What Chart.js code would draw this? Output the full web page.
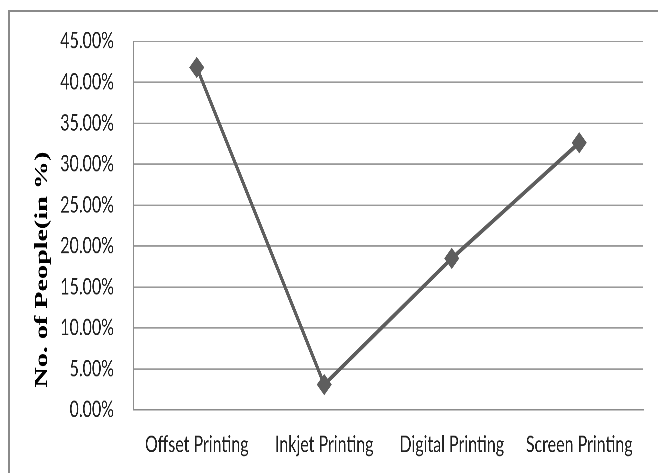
<!DOCTYPE html>
<html>
<head>
<meta charset="utf-8">
<script src="https://cdn.jsdelivr.net/npm/chart.js@4"></script>
<style>
  html, body { margin: 0; padding: 0; background: #fff; width: 658px; height: 473px; overflow: hidden; }
  #stretch { position: absolute; left: 0; top: 0; width: 658px; height: 333px; transform: scaleY(1.4204); transform-origin: 0 0; }
  #frame { position: absolute; left: 8px; top: 10px; width: 700px; height: 500px; border-top: 2px solid #8a8a8a; border-left: 2px solid #8a8a8a; pointer-events: none; }
</style>
</head>
<body>
<div id="stretch"><canvas id="c" width="658" height="333"></canvas></div>
<div id="frame"></div>
<script>
const categories = ["Offset Printing", "Inkjet Printing", "Digital Printing", "Screen Printing"];
const peoplePercent = [41.8, 3.1, 18.5, 32.6];
const yTickLabels = ["0.00%", "5.00%", "10.00%", "15.00%", "20.00%", "25.00%", "30.00%", "35.00%", "40.00%", "45.00%"];
const yAxisTitle = "No. of People(in %)";

const titlePlugin = {
  id: 'sideTitle',
  afterDraw(chart) {
    const ctx = chart.ctx;
    const area = chart.chartArea;
    ctx.save();
    ctx.translate(47, (area.top + area.bottom) / 2 + 31);
    ctx.rotate(-Math.PI / 2);
    ctx.scale(1.1, 1);
    ctx.font = 'bold 18px "Liberation Serif", "Times New Roman", serif';
    ctx.fillStyle = '#000';
    ctx.textAlign = 'center';
    ctx.textBaseline = 'alphabetic';
    ctx.fillText(yAxisTitle, 0, 0);
    ctx.restore();
  }
};

new Chart(document.getElementById('c'), {
  type: 'line',
  data: {
    labels: categories,
    datasets: [{
      data: peoplePercent,
      borderColor: '#5e5e5e',
      backgroundColor: '#5e5e5e',
      borderWidth: 3,
      pointStyle: 'rectRot',
      pointRadius: 7.5,
      pointBorderWidth: 0,
      pointBackgroundColor: '#5e5e5e',
      tension: 0,
      fill: false
    }]
  },
  options: {
    responsive: false,
    animation: false,
    devicePixelRatio: 3,
    layout: { padding: { left: 0, right: 15, top: 29, bottom: 0 } },
    plugins: { legend: { display: false }, tooltip: { enabled: false } },
    scales: {
      x: {
        offset: true,
        grid: { display: false, drawTicks: false },
        border: { display: true, color: '#8c8c8c', width: 1 },
        ticks: { color: '#222', padding: 15, font: { family: 'Lato, "Open Sans", sans-serif', size: 16 } },
        afterFit(s) { s.height = 44.4; }
      },
      y: {
        min: 0, max: 45,
        grid: { color: '#9a9a9a', lineWidth: 1, drawTicks: false },
        border: { display: true, color: '#8c8c8c', width: 1 },
        ticks: {
          stepSize: 5, padding: 19, color: '#222',
          font: { family: 'Lato, "Open Sans", sans-serif', size: 16 },
          callback: (v, i) => yTickLabels[i]
        },
        afterFit(s) { s.width = 133; }
      }
    }
  },
  plugins: [titlePlugin]
});
</script>
</body>
</html>
